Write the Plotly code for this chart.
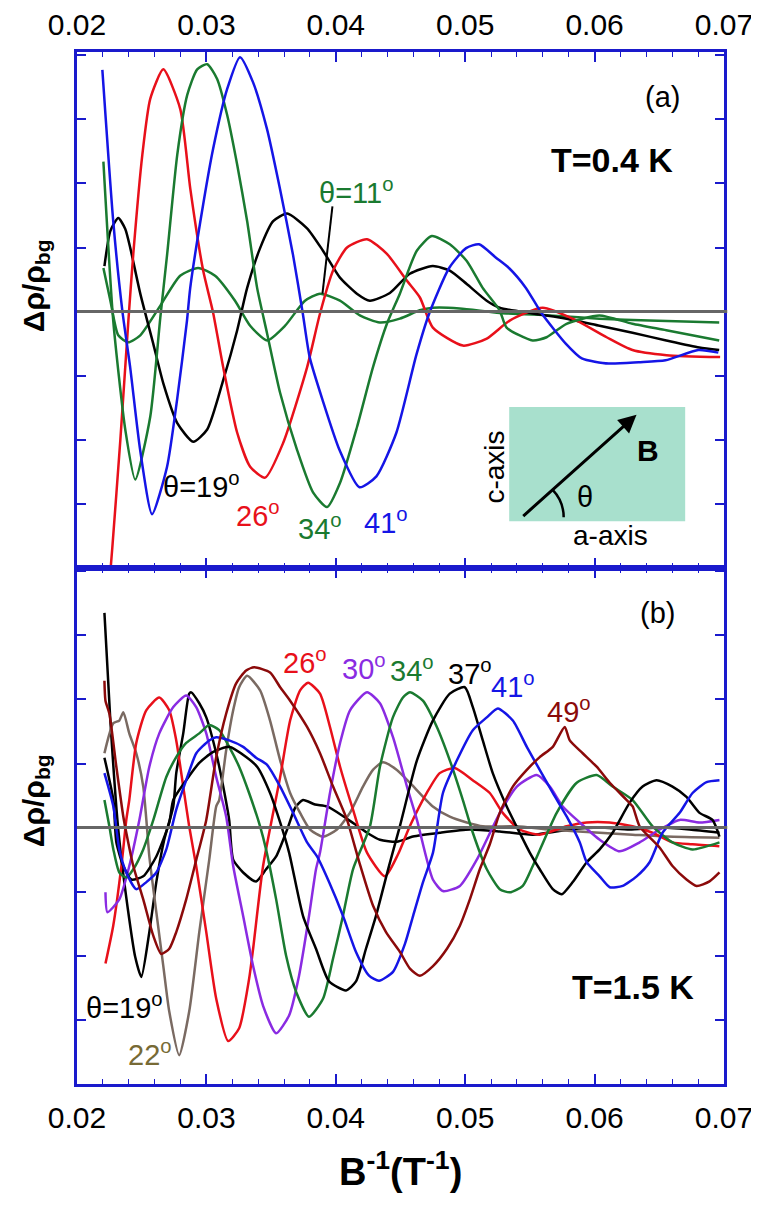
import plotly.graph_objects as go

# ---------------- Panel (a): T = 0.4 K ----------------
a19_x = [0.02212, 0.02258, 0.02319, 0.02373, 0.02412, 0.02489, 0.02589, 0.02667, 0.02775, 0.02898,
         0.03006, 0.0313, 0.03238, 0.03315, 0.03415, 0.03516, 0.03624, 0.03778, 0.03901, 0.04032,
         0.04163, 0.04263, 0.04418, 0.04572, 0.04749, 0.04881, 0.05012, 0.05166, 0.05266, 0.05521,
         0.05783, 0.06038, 0.06293, 0.06554, 0.06809, 0.06963]
a19_y = [0.71, 1.26, 1.46, 1.29, 0.99, 0.28, -0.5, -1.12, -1.74, -2.03,
         -1.84, -1.07, -0.29, 0.37, 0.99, 1.41, 1.53, 1.3, 0.95, 0.53,
         0.28, 0.17, 0.29, 0.59, 0.71, 0.64, 0.43, 0.17, 0.06, -0.03,
         -0.11, -0.22, -0.33, -0.45, -0.56, -0.6]

a26_x = [0.0222, 0.02273, 0.02335, 0.02397, 0.02435, 0.02505, 0.02566, 0.02667, 0.02798, 0.02876,
         0.02975, 0.0305, 0.0313, 0.03238, 0.03338, 0.03454, 0.03593, 0.03778, 0.03878, 0.03979,
         0.04087, 0.04241, 0.04395, 0.0455, 0.0465, 0.0475, 0.04982, 0.05167, 0.05344, 0.05599,
         0.05861, 0.06093, 0.06293, 0.06556, 0.0697]
a26_y = [-5.0, -3.68, -2.0, -0.14, 0.9, 2.45, 3.32, 3.78, 3.16, 1.91,
         0.64, 0.0, -0.87, -1.89, -2.42, -2.59, -2.05, -0.87, -0.03, 0.64,
         1.0, 1.13, 0.9, 0.48, 0.22, -0.25, -0.53, -0.42, -0.14, 0.06,
         -0.14, -0.4, -0.6, -0.68, -0.71]

a34_x = [0.02204, 0.0228, 0.02373, 0.0245, 0.02566, 0.02644, 0.02697, 0.02775, 0.02852, 0.02929,
         0.03006, 0.03083, 0.0316, 0.03238, 0.03315, 0.03392, 0.03469, 0.0357, 0.03701, 0.03824,
         0.03932, 0.04033, 0.04164, 0.04287, 0.04395, 0.04495, 0.04626, 0.04742, 0.04881, 0.05012,
         0.05135, 0.05266, 0.0532, 0.05521, 0.05629, 0.05783, 0.06037, 0.06292, 0.06554, 0.06963]
a34_y = [2.34, -0.14, -1.84, -2.62, -1.64, -0.09, 0.9, 2.45, 3.38, 3.78,
         3.86, 3.63, 3.07, 2.29, 1.41, 0.37, -0.34, -1.27, -2.16, -2.82,
         -3.05, -2.67, -1.8, -0.87, -0.19, 0.28, 0.95, 1.18, 1.05, 0.79,
         0.37, 0.02, -0.25, -0.45, -0.4, -0.19, -0.06, -0.19, -0.29, -0.45]

a41_x = [0.02196, 0.0228, 0.0235, 0.02411, 0.02488, 0.0258, 0.02696, 0.02773, 0.0285, 0.02875,
         0.02975, 0.03052, 0.0316, 0.0326, 0.0336, 0.03468, 0.03568, 0.03668, 0.03745, 0.03798,
         0.03898, 0.04029, 0.04183, 0.04314, 0.04468, 0.04622, 0.04722, 0.04876, 0.05007, 0.05107,
         0.05238, 0.05338, 0.05469, 0.05592, 0.05777, 0.05901, 0.06109, 0.0634, 0.06548, 0.06802,
         0.06956]
a41_y = [3.77, 1.41, 0.02, -0.87, -2.16, -3.16, -2.42, -1.38, -0.14, 0.37,
         1.67, 2.54, 3.47, 3.97, 3.58, 2.85, 1.92, 0.9, -0.03, -0.71,
         -1.38, -2.16, -2.74, -2.57, -1.89, -0.68, -0.03, 0.68, 0.99, 1.05,
         0.84, 0.68, 0.37, -0.03, -0.5, -0.73, -0.81, -0.79, -0.76, -0.6,
         -0.64]

a11_x = [0.02204, 0.02258, 0.02319, 0.02396, 0.02489, 0.02643, 0.02797, 0.02936, 0.03067, 0.03221,
         0.03338, 0.03469, 0.03608, 0.03762, 0.03878, 0.04032, 0.04186, 0.0434, 0.04495, 0.04649,
         0.04749, 0.04957, 0.05266, 0.05651, 0.06037, 0.06423, 0.06963]
a11_y = [0.68, 0.17, -0.37, -0.48, -0.37, 0.09, 0.56, 0.68, 0.56, 0.17,
         -0.22, -0.45, -0.22, 0.17, 0.28, 0.17, -0.06, -0.17, -0.11, 0.02,
         0.06, 0.05, -0.02, -0.06, -0.11, -0.14, -0.17]

# ---------------- Panel (b): T = 1.5 K ----------------
b19_x = [0.02212, 0.02258, 0.02319, 0.02404, 0.0245, 0.02497, 0.02559, 0.02613, 0.02674, 0.02744,
         0.02767, 0.02821, 0.02867, 0.02883, 0.02945, 0.02999, 0.03076, 0.0313, 0.03176, 0.03207,
         0.03284, 0.03384, 0.03461, 0.03539, 0.03624, 0.03686, 0.03747, 0.0384, 0.03932, 0.04071,
         0.04241, 0.04341, 0.04472, 0.04596, 0.04804, 0.05035, 0.05267, 0.05522, 0.05808, 0.0604,
         0.06271, 0.06503, 0.06734, 0.06965]
b19_y = [3.35, 1.66, -0.03, -1.43, -2.02, -2.33, -1.63, -0.85, -0.19, 0.33,
         0.85, 1.47, 2.09, 2.11, 1.94, 1.72, 1.16, 0.64, 0.12, -0.5,
         -0.7, -0.84, -0.65, -0.45, -0.03, 0.31, 0.43, 0.36, 0.33, 0.16,
         -0.08, -0.19, -0.22, -0.14, -0.08, -0.03, -0.06, -0.11, -0.03, 0.0,
         -0.03, 0.0, -0.03, -0.08]

b22_x = [0.02212, 0.02281, 0.02327, 0.02358, 0.02404, 0.02458, 0.02512, 0.02536, 0.02559, 0.02613,
         0.02667, 0.02713, 0.0279, 0.02867, 0.02945, 0.03022, 0.03076, 0.03099, 0.03153, 0.03207,
         0.03253, 0.03315, 0.03415, 0.03492, 0.0357, 0.03647, 0.03724, 0.03801, 0.03901, 0.04009,
         0.04109, 0.0421, 0.04287, 0.04364, 0.04472, 0.04572, 0.0475, 0.04881, 0.05012, 0.05136,
         0.05398, 0.05653, 0.06039, 0.06294, 0.06556, 0.06965]
b22_y = [1.16, 1.63, 1.67, 1.8, 1.47, 1.16, 0.64, 0.12, -0.45, -1.32,
         -2.16, -2.87, -3.55, -2.87, -1.63, -0.5, 0.33, 0.43, 1.21, 1.83,
         2.19, 2.37, 2.14, 1.67, 1.05, 0.54, 0.23, -0.03, -0.14, -0.03,
         0.23, 0.64, 0.9, 1.02, 0.9, 0.7, 0.33, 0.17, 0.08, 0.02,
         0.02, -0.03, -0.08, -0.11, -0.14, -0.16]

b26_x = [0.0222, 0.0228, 0.02343, 0.02381, 0.02404, 0.02458, 0.02535, 0.02636, 0.02713, 0.02767,
         0.02821, 0.02867, 0.02921, 0.02999, 0.03076, 0.03168, 0.03253, 0.0333, 0.03361, 0.03438,
         0.0357, 0.03647, 0.03724, 0.03786, 0.03878, 0.03955, 0.04033, 0.04133, 0.04241, 0.0438,
         0.0448, 0.04572, 0.04703, 0.04803, 0.04919, 0.05058, 0.0519, 0.0529, 0.05421, 0.05575,
         0.05784, 0.05938, 0.06115, 0.06293, 0.06447, 0.06602, 0.06756, 0.06964]
b26_y = [-2.12, -1.53, -0.6, 0.12, 0.43, 1.32, 1.83, 2.03, 1.83, 1.36,
         0.64, 0.02, -0.6, -1.63, -2.67, -3.33, -3.13, -2.36, -1.89, -0.6,
         0.79, 1.67, 2.14, 2.26, 2.09, 1.57, 0.95, 0.28, -0.39, -0.76,
         -0.42, 0.02, 0.54, 0.85, 0.93, 0.74, 0.54, 0.23, -0.03, -0.11,
         0.02, 0.08, 0.08, 0.02, -0.08, -0.23, -0.26, -0.29]

b30_x = [0.0222, 0.02235, 0.02327, 0.02404, 0.02482, 0.02559, 0.02636, 0.02744, 0.02844, 0.02921,
         0.02999, 0.03076, 0.03153, 0.03207, 0.03284, 0.03361, 0.03438, 0.03539, 0.03639, 0.03716,
         0.03793, 0.03847, 0.03878, 0.03955, 0.04033, 0.0411, 0.04241, 0.04341, 0.04442, 0.0455,
         0.04627, 0.0475, 0.04828, 0.04959, 0.0509, 0.05268, 0.05399, 0.05553, 0.05654, 0.05754,
         0.05885, 0.0604, 0.06194, 0.06348, 0.06502, 0.06657, 0.06811, 0.06965]
b30_y = [-1.01, -1.32, -1.12, -0.6, 0.12, 0.95, 1.47, 1.88, 2.06, 1.88,
         1.47, 0.79, 0.17, -0.6, -1.38, -2.16, -2.78, -3.21, -2.93, -2.31,
         -1.38, -0.65, -0.39, 0.54, 1.32, 1.83, 2.11, 1.94, 1.41, 0.64,
         0.12, -0.81, -0.99, -0.91, -0.5, 0.23, 0.64, 0.82, 0.64, 0.33,
         0.08, -0.19, -0.37, -0.23, -0.03, 0.12, 0.08, 0.12]

b34_x = [0.02212, 0.0225, 0.02281, 0.02327, 0.02381, 0.02435, 0.02512, 0.0259, 0.0269, 0.02767,
         0.02844, 0.02945, 0.03022, 0.03099, 0.03176, 0.03253, 0.0333, 0.03415, 0.03461, 0.03539,
         0.03616, 0.03693, 0.03793, 0.03901, 0.03978, 0.04055, 0.04133, 0.04264, 0.04341, 0.04441,
         0.04519, 0.04573, 0.04673, 0.04781, 0.04881, 0.04982, 0.05059, 0.05167, 0.05267, 0.05345,
         0.05445, 0.05522, 0.05707, 0.05862, 0.06016, 0.06139, 0.06294, 0.06448, 0.06602, 0.06757,
         0.06965]
b34_y = [0.43, 0.02, -0.34, -0.7, -0.78, -0.65, -0.34, 0.12, 0.79, 1.1,
         1.32, 1.47, 1.6, 1.52, 1.26, 0.95, 0.54, 0.02, -0.34, -1.12,
         -2.0, -2.56, -2.95, -2.67, -2.05, -1.38, -0.65, 0.02, 0.95, 1.72,
         2.03, 2.11, 1.98, 1.57, 1.05, 0.43, -0.08, -0.65, -0.96, -1.01,
         -0.91, -0.6, 0.23, 0.7, 0.82, 0.64, 0.43, 0.02, -0.23, -0.34,
         -0.23]

b37_x = [0.02212, 0.02281, 0.02304, 0.02358, 0.0242, 0.02512, 0.02613, 0.02713, 0.02744, 0.02844,
         0.02945, 0.03053, 0.03176, 0.03307, 0.03392, 0.03492, 0.0357, 0.03639, 0.03747, 0.03847,
         0.03948, 0.04079, 0.04156, 0.04233, 0.0431, 0.04411, 0.04495, 0.04627, 0.0475, 0.04881,
         0.04997, 0.05059, 0.05136, 0.05213, 0.05321, 0.05421, 0.05499, 0.05576, 0.05677, 0.05746,
         0.05831, 0.05939, 0.06039, 0.06139, 0.06271, 0.06371, 0.06479, 0.06602, 0.0671, 0.06811,
         0.06911, 0.06965]
b37_y = [1.09, 0.43, -0.23, -0.6, -0.81, -0.76, -0.45, 0.08, 0.43, 0.74,
         1.01, 1.18, 1.26, 1.1, 0.95, 0.54, 0.08, -0.39, -1.38, -1.89,
         -2.4, -2.54, -2.4, -1.89, -1.38, -0.6, 0.02, 1.05, 1.67, 2.09,
         2.19, 1.88, 1.36, 0.85, 0.33, -0.08, -0.39, -0.65, -0.96, -1.04,
         -0.85, -0.54, -0.34, -0.08, 0.39, 0.64, 0.74, 0.64, 0.48, 0.23,
         0.12, -0.14]

b41_x = [0.02212, 0.02281, 0.02327, 0.02381, 0.02458, 0.02536, 0.02613, 0.0269, 0.02767, 0.02844,
         0.02922, 0.03022, 0.03076, 0.03176, 0.03284, 0.03384, 0.03469, 0.0357, 0.0367, 0.03778,
         0.03855, 0.03948, 0.04056, 0.04156, 0.04257, 0.04334, 0.04442, 0.04535, 0.04597, 0.04674,
         0.04751, 0.04828, 0.04936, 0.05059, 0.05167, 0.05252, 0.05368, 0.05476, 0.05576, 0.05677,
         0.05785, 0.05885, 0.05939, 0.06039, 0.06117, 0.06217, 0.06325, 0.06425, 0.06525, 0.06657,
         0.06757, 0.06865, 0.06965]
b41_y = [0.85, 0.33, -0.34, -0.7, -0.96, -0.85, -0.7, -0.34, 0.28, 0.74,
         1.16, 1.36, 1.41, 1.36, 1.26, 1.09, 0.98, 0.64, 0.23, -0.23,
         -0.45, -0.85, -1.38, -1.94, -2.31, -2.39, -2.25, -1.81, -1.38, -0.85,
         -0.39, 0.54, 1.05, 1.52, 1.72, 1.86, 1.67, 1.26, 0.9, 0.54,
         0.17, -0.23, -0.54, -0.76, -0.93, -0.91, -0.76, -0.54, -0.08, 0.23,
         0.54, 0.71, 0.74]

b49_x = [0.02212, 0.0222, 0.0225, 0.02304, 0.02358, 0.02381, 0.02435, 0.02512, 0.0259, 0.02651,
         0.02713, 0.02767, 0.02844, 0.02922, 0.02999, 0.03076, 0.03153, 0.0323, 0.03307, 0.03369,
         0.03492, 0.0357, 0.03647, 0.03778, 0.03878, 0.03979, 0.04087, 0.0418, 0.04288, 0.04388,
         0.04496, 0.04573, 0.0465, 0.04751, 0.04859, 0.04959, 0.05036, 0.05113, 0.0519, 0.05267,
         0.05368, 0.05476, 0.05576, 0.05677, 0.05769, 0.05808, 0.05908, 0.06016, 0.06117, 0.06248,
         0.06294, 0.06348, 0.06502, 0.06602, 0.0671, 0.06788, 0.06888, 0.06965]
b49_y = [2.29, 1.98, 1.78, 0.95, 0.17, -0.08, -0.6, -1.12, -1.69, -1.97,
         -1.89, -1.63, -1.12, -0.5, 0.12, 1.1, 1.78, 2.25, 2.45, 2.5,
         2.42, 2.19, 1.98, 1.57, 1.16, 0.64, 0.12, -0.53, -1.22, -1.63,
         -1.94, -2.2, -2.31, -2.16, -1.89, -1.53, -1.12, -0.65, -0.26, 0.23,
         0.64, 0.9, 1.1, 1.26, 1.57, 1.36, 1.16, 0.95, 0.7, 0.43,
         0.33, 0.02, -0.31, -0.6, -0.81, -0.91, -0.84, -0.7]

# ---------------- styling ----------------
RED = "#e8101a"
GREEN = "#1a7a30"
BLUE = "#1515e6"
BLACK = "#000000"
PURPLE = "#8a2be2"
MAROON = "#8b0a0a"
TAUPE = "#7a6a62"
FRAME = "#1a1acc"
FONT = "Liberation Sans"

fig = go.Figure()

def add(xs, ys, color, xa, ya):
    fig.add_trace(go.Scatter(x=xs, y=ys, mode="lines",
                             line=dict(color=color, width=2.5, shape="spline", smoothing=0.6),
                             xaxis=xa, yaxis=ya, showlegend=False, hoverinfo="skip"))

add(a11_x, a11_y, GREEN, "x", "y")
add(a19_x, a19_y, BLACK, "x", "y")
add(a26_x, a26_y, RED, "x", "y")
add(a34_x, a34_y, GREEN, "x", "y")
add(a41_x, a41_y, BLUE, "x", "y")

add(b19_x, b19_y, BLACK, "x2", "y2")
add(b22_x, b22_y, TAUPE, "x2", "y2")
add(b26_x, b26_y, RED, "x2", "y2")
add(b30_x, b30_y, PURPLE, "x2", "y2")
add(b34_x, b34_y, GREEN, "x2", "y2")
add(b37_x, b37_y, BLACK, "x2", "y2")
add(b41_x, b41_y, BLUE, "x2", "y2")
add(b49_x, b49_y, MAROON, "x2", "y2")

common_x = dict(range=[0.02, 0.07], dtick=0.01, tick0=0.02, tickformat=".2f",
                ticks="inside", ticklen=10, tickwidth=1.5, tickcolor=FRAME,
                showline=True, linecolor=FRAME, linewidth=3, mirror="ticks",
                showgrid=False, zeroline=False, automargin=False,
                tickfont=dict(family=FONT, size=30, color="black"),
                minor=dict(dtick=0.002, ticks="inside", ticklen=5, tickcolor=FRAME, tickwidth=1))
common_y = dict(range=[-4, 4.05], dtick=1, tick0=0, showticklabels=False,
                ticks="inside", ticklen=9, tickwidth=1.5, tickcolor=FRAME,
                showline=True, linecolor=FRAME, linewidth=3, mirror="ticks",
                showgrid=False, zeroline=False, automargin=False)

# page body has an 8px default margin, so the figure is sized to fill the rest of the window
fig.update_layout(
    width=751, height=1199, autosize=False,
    margin=dict(l=69, r=35, t=44, b=123),
    paper_bgcolor="white", plot_bgcolor="white",
    xaxis=dict(domain=[0, 1], anchor="y", side="top", ticklabelstandoff=2, **common_x),
    yaxis=dict(domain=[0.5, 1], anchor="x", **common_y),
    xaxis2=dict(domain=[0, 1], anchor="y2", side="bottom", ticklabelstandoff=5, **common_x),
    yaxis2=dict(domain=[0, 0.5], anchor="x2", **common_y),
)

# zero lines
for ya in ("y", "y2"):
    fig.add_shape(type="line", xref="paper", yref=ya, x0=0, x1=1.005, y0=0, y1=0,
                  line=dict(color="#666666", width=3), layer="above")

# inset in panel (a)
fig.add_shape(type="rect", xref="x", yref="y", x0=0.0534, x1=0.0670, y0=-3.27, y1=-1.49,
              fillcolor="#a8e0cd", line=dict(width=0), layer="below")
fig.add_shape(type="path", xref="x", yref="y",
              path="M 0.05761 -3.21 Q 0.05761 -2.96 0.05676 -2.78",
              line=dict(color="black", width=2.5), layer="above")
fig.add_annotation(x=0.06324, y=-1.61, ax=0.05437, ay=-3.21, xref="x", yref="y",
                   axref="x", ayref="y", text="", showarrow=True, arrowhead=2,
                   arrowsize=1.2, arrowwidth=3, arrowcolor="black")

def txt(x, y, s, color="black", size=29, xref="x", yref="y", bold=False, angle=0):
    fig.add_annotation(x=x, y=y, xref=xref, yref=yref, text=s, showarrow=False,
                       textangle=angle, xanchor="center", yanchor="middle",
                       font=dict(family=FONT, size=size, color=color,
                                 weight="bold" if bold else "normal"))

txt(0.06409, -2.16, "B", size=30, bold=True)
txt(0.05924, -2.9, "θ", size=29)
txt(0.05229, -2.42, "c-axis", size=28, angle=-90)
txt(0.06124, -3.49, "a-axis", size=28)

# panel (a) labels
txt(0.06524, 3.35, "(a)", size=29)
txt(0.06132, 2.37, "T=0.4 K", size=34, bold=True)
txt(0.04156, 1.88, "θ=11<sup>o</sup>", color=GREEN)
fig.add_shape(type="line", xref="x", yref="y", x0=0.03974, y0=1.64, x1=0.03897, y1=0.28,
              line=dict(color="black", width=2))
txt(0.02961, -2.7, "θ=19<sup>o</sup>")
txt(0.0340, -3.16, "26<sup>o</sup>", color=RED)
txt(0.03879, -3.36, "34<sup>o</sup>", color=GREEN)
txt(0.04388, -3.26, "41<sup>o</sup>", color=BLUE)

# panel (b) labels
txt(0.06487, 3.35, "(b)", xref="x2", yref="y2")
txt(0.03762, 2.6, "26<sup>o</sup>", color=RED, xref="x2", yref="y2")
txt(0.04218, 2.5, "30<sup>o</sup>", color=PURPLE, xref="x2", yref="y2")
txt(0.04588, 2.48, "34<sup>o</sup>", color=GREEN, xref="x2", yref="y2")
txt(0.05036, 2.43, "37<sup>o</sup>", color=BLACK, xref="x2", yref="y2")
txt(0.05368, 2.22, "41<sup>o</sup>", color=BLUE, xref="x2", yref="y2")
txt(0.05800, 1.83, "49<sup>o</sup>", color=MAROON, xref="x2", yref="y2")
txt(0.02366, -2.79, "θ=19<sup>o</sup>", xref="x2", yref="y2")
txt(0.02566, -3.52, "22<sup>o</sup>", color="#776a35", xref="x2", yref="y2")
txt(0.06295, -2.48, "T=1.5 K", size=34, bold=True, xref="x2", yref="y2")

# axis titles
txt(-0.065, 0.774, "Δρ/ρ<sub>bg</sub>", size=30, bold=True, xref="paper", yref="paper", angle=-90)
txt(-0.065, 0.275, "Δρ/ρ<sub>bg</sub>", size=30, bold=True, xref="paper", yref="paper", angle=-90)
txt(0.5, -0.082, "B<sup>-1</sup>(T<sup>-1</sup>)", size=38, bold=True, xref="paper", yref="paper")

fig.write_html("out.html")
